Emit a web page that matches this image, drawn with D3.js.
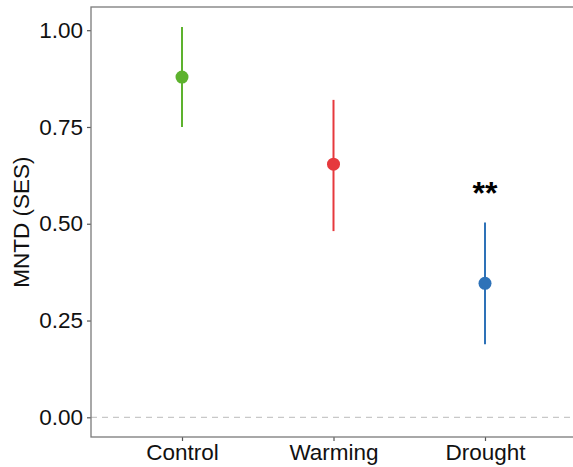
<!DOCTYPE html>
<html><head><meta charset="utf-8">
<script src="https://cdn.jsdelivr.net/npm/d3@7"></script>
<style>body{margin:0;background:#fff}svg{display:block}text{font-family:"Liberation Sans",Arial,sans-serif}</style>
</head><body>
<script>
const categories = ["Control","Warming","Drought"];
const means = [0.879, 0.654, 0.346];
const lower = [0.750, 0.481, 0.189];
const upper = [1.008, 0.820, 0.503];
const colors = ["#5db22e","#e6393d","#2e72b8"];
const signif = ["","","**"];
const yTicks = [0,0.25,0.5,0.75,1.0];

const W=573,H=467;
const svg=d3.select("body").append("svg").attr("width",W).attr("height",H);
const panel={l:91,r:580,t:7,b:437};
const x=d3.scalePoint().domain(categories).range([182,485]);
const y=d3.scaleLinear().domain([0,1]).range([417.3,30.2]);

svg.append("line").attr("x1",panel.l).attr("x2",W).attr("y1",y(0)).attr("y2",y(0))
  .attr("stroke","#c8c8c8").attr("stroke-width",1.3).attr("stroke-dasharray","6,5");

const yAxis=d3.axisLeft(y).tickValues(yTicks).tickFormat(d3.format(".2f")).tickSize(4).tickPadding(4);
const gy=svg.append("g").attr("transform",`translate(${panel.l},0)`).call(yAxis);
gy.select(".domain").remove();
gy.selectAll("line").attr("stroke","#555").attr("stroke-width",1.2);
gy.selectAll("text").attr("font-size",22.5).attr("fill","#111");

const xAxis=d3.axisBottom(x).tickSize(4).tickPadding(3);
const gx=svg.append("g").attr("transform",`translate(0,${panel.b})`).call(xAxis);
gx.select(".domain").remove();
gx.selectAll("line").attr("stroke","#555").attr("stroke-width",1.2);
gx.selectAll("text").attr("font-size",22.5).attr("fill","#111");

svg.append("rect").attr("x",panel.l).attr("y",panel.t).attr("width",panel.r-panel.l).attr("height",panel.b-panel.t)
  .attr("fill","none").attr("stroke","#7a7a7a").attr("stroke-width",1.3);

svg.append("text").attr("transform",`translate(29,${(panel.t+panel.b)/2}) rotate(-90)`)
  .attr("text-anchor","middle").attr("font-size",22.5).attr("fill","#111").text("MNTD (SES)");

const g=svg.append("g");
categories.forEach((c,i)=>{
  g.append("line").attr("x1",x(c)).attr("x2",x(c)).attr("y1",y(lower[i])).attr("y2",y(upper[i]))
    .attr("stroke",colors[i]).attr("stroke-width",2);
  g.append("circle").attr("cx",x(c)).attr("cy",y(means[i])).attr("r",6.5).attr("fill",colors[i]);
  if(signif[i]) g.append("text").attr("x",x(c)).attr("y",y(upper[i])-19).attr("text-anchor","middle")
    .attr("font-size",32).attr("font-weight","bold").attr("fill","#000").text(signif[i]);
});
</script>
</body></html>
